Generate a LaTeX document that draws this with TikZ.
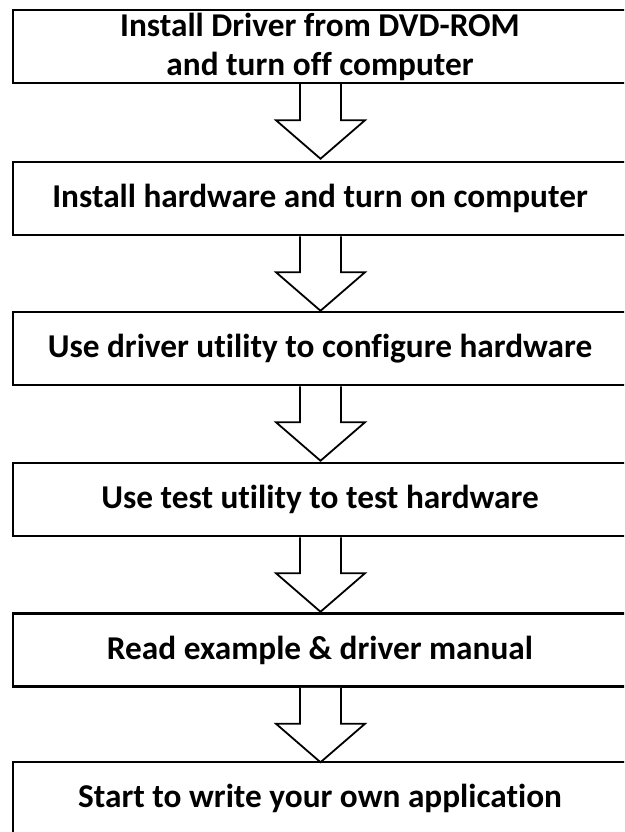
\documentclass[tikz,border=0pt]{standalone}
\usepackage{fontspec}
\setmainfont{Carlito}[Ligatures={NoCommon}]
\usetikzlibrary{calc}
\begin{document}
\begin{tikzpicture}[x=1pt,y=-1pt,
  stepbox/.style={draw=black,line width=2.5pt,minimum width=614pt,minimum height=73pt,inner sep=0pt,align=center,
    font=\fontsize{33.3}{39}\selectfont\bfseries},
  blockarrow/.style={draw=black,line width=1.8pt,line join=miter,fill=white}]
\useasboundingbox (0,0) rectangle (624,832);
\clip (0,0) rectangle (624,832);
\fill[white] (0,0) rectangle (624,832);
\node[stepbox] (b1) at (320,46.5) {Install Driver from DVD-ROM\\and turn off computer};
\node[stepbox] (b2) at (320,198.5) {Install hardware and turn on computer};
\node[stepbox] (b3) at (320,348.5) {Use driver utility to configure hardware};
\node[stepbox] (b4) at (320,499.5) {Use test utility to test hardware};
\node[stepbox] (b5) at (320,650) {Read example \& driver manual};
\node[stepbox] (b6) at (320,798.5) {Start to write your own application};
\foreach \a/\b in {b1/b2,b2/b3,b3/b4,b4/b5,b5/b6}{
  \draw[blockarrow] ($(\a.south)+(0.5,0)$) ++(-20.5,0) -- ++(0,36) -- ++(-24,0) -- ++(44.5,38.5) -- ++(44.5,-38.5) -- ++(-24,0) -- ++(0,-36);
}
\end{tikzpicture}
\end{document}
